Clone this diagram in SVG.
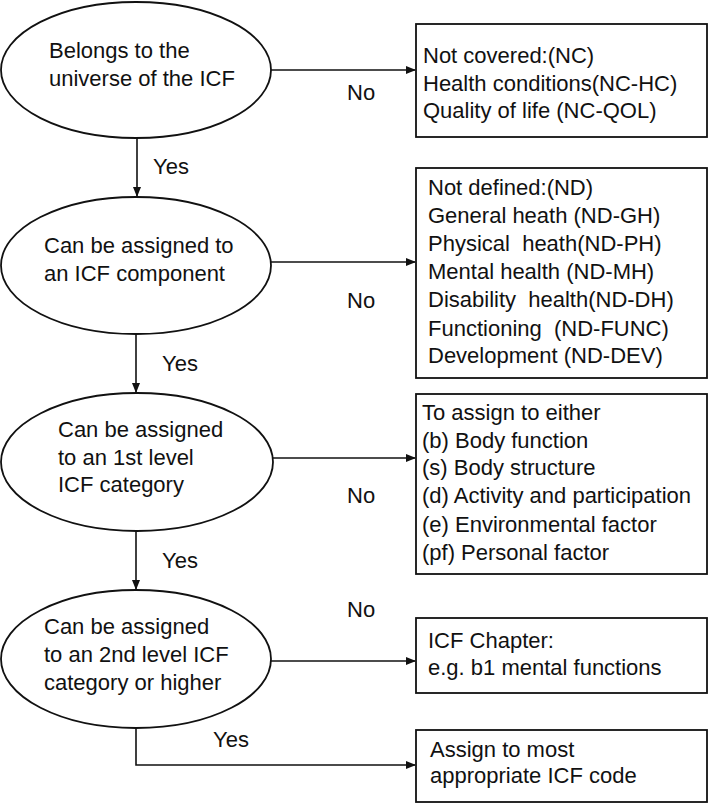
<svg xmlns="http://www.w3.org/2000/svg" width="709" height="804" viewBox="0 0 709 804">
<style>
text{font-family:"Liberation Sans",Arial,sans-serif;font-size:22px;fill:#111}
.n{fill:#fff;stroke:#111;stroke-width:1.8}
.c{fill:none;stroke:#111;stroke-width:1.6}
</style>
<defs>
<marker id="ah" markerWidth="10" markerHeight="8" refX="9" refY="4" orient="auto" markerUnits="userSpaceOnUse">
<path d="M0,0 L10,4 L0,8 z" fill="#111"/>
</marker>
</defs>
<rect width="709" height="804" fill="#fff"/>
<g id="connectors">
<line class="c" x1="271" y1="70" x2="415" y2="70" marker-end="url(#ah)"/>
<line class="c" x1="137" y1="138" x2="137" y2="196" marker-end="url(#ah)"/>
<line class="c" x1="271" y1="262" x2="415" y2="262" marker-end="url(#ah)"/>
<line class="c" x1="136" y1="334" x2="136" y2="392" marker-end="url(#ah)"/>
<line class="c" x1="273" y1="458" x2="415" y2="458" marker-end="url(#ah)"/>
<line class="c" x1="136" y1="531" x2="136" y2="589" marker-end="url(#ah)"/>
<line class="c" x1="271" y1="661" x2="415" y2="661" marker-end="url(#ah)"/>
<polyline class="c" points="136,728 136,765 415,765" marker-end="url(#ah)"/>
<text x="347" y="100">No</text>
<text x="153" y="174">Yes</text>
<text x="347" y="308">No</text>
<text x="162" y="371">Yes</text>
<text x="347" y="503">No</text>
<text x="162" y="568">Yes</text>
<text x="347" y="617">No</text>
<text x="213" y="747">Yes</text>
</g>
<g id="q1">
<ellipse class="n" cx="136" cy="70" rx="135" ry="68"/>
<text x="49" y="58">Belongs to the</text>
<text x="49" y="86">universe of the ICF</text>
</g>
<g id="q2">
<ellipse class="n" cx="136" cy="265.5" rx="135" ry="68.5"/>
<text x="44" y="253">Can be assigned to</text>
<text x="44" y="281">an ICF component</text>
</g>
<g id="q3">
<ellipse class="n" cx="137" cy="462" rx="136" ry="69"/>
<text x="58" y="437">Can be assigned</text>
<text x="58" y="465">to an 1st level</text>
<text x="58" y="492">ICF category</text>
</g>
<g id="q4">
<ellipse class="n" cx="136" cy="659" rx="135" ry="69"/>
<text x="44" y="634">Can be assigned</text>
<text x="44" y="662">to an 2nd level ICF</text>
<text x="44" y="690">category or higher</text>
</g>
<g id="b1">
<rect class="n" x="416" y="24" width="291" height="113"/>
<text x="423" y="63">Not covered:(NC)</text>
<text x="423" y="91">Health conditions(NC-HC)</text>
<text x="423" y="118">Quality of life (NC-QOL)</text>
</g>
<g id="b2">
<rect class="n" x="416" y="168" width="291" height="210"/>
<text x="428" y="195">Not defined:(ND)</text>
<text x="428" y="223">General heath (ND-GH)</text>
<text x="428" y="251" xml:space="preserve">Physical  heath(ND-PH)</text>
<text x="428" y="279">Mental health (ND-MH)</text>
<text x="428" y="307" xml:space="preserve">Disability  health(ND-DH)</text>
<text x="428" y="336" xml:space="preserve">Functioning  (ND-FUNC)</text>
<text x="428" y="363">Development (ND-DEV)</text>
</g>
<g id="b3">
<rect class="n" x="416" y="394" width="291" height="180"/>
<text x="422" y="420">To assign to either</text>
<text x="422" y="448">(b) Body function</text>
<text x="422" y="475">(s) Body structure</text>
<text x="422" y="503">(d) Activity and participation</text>
<text x="422" y="532">(e) Environmental factor</text>
<text x="422" y="560">(pf) Personal factor</text>
</g>
<g id="b4">
<rect class="n" x="416" y="618" width="291" height="75"/>
<text x="428" y="648">ICF Chapter:</text>
<text x="428" y="675">e.g. b1 mental functions</text>
</g>
<g id="b5">
<rect class="n" x="416" y="730" width="291" height="72"/>
<text x="430" y="757">Assign to most</text>
<text x="430" y="783">appropriate ICF code</text>
</g>
</svg>
